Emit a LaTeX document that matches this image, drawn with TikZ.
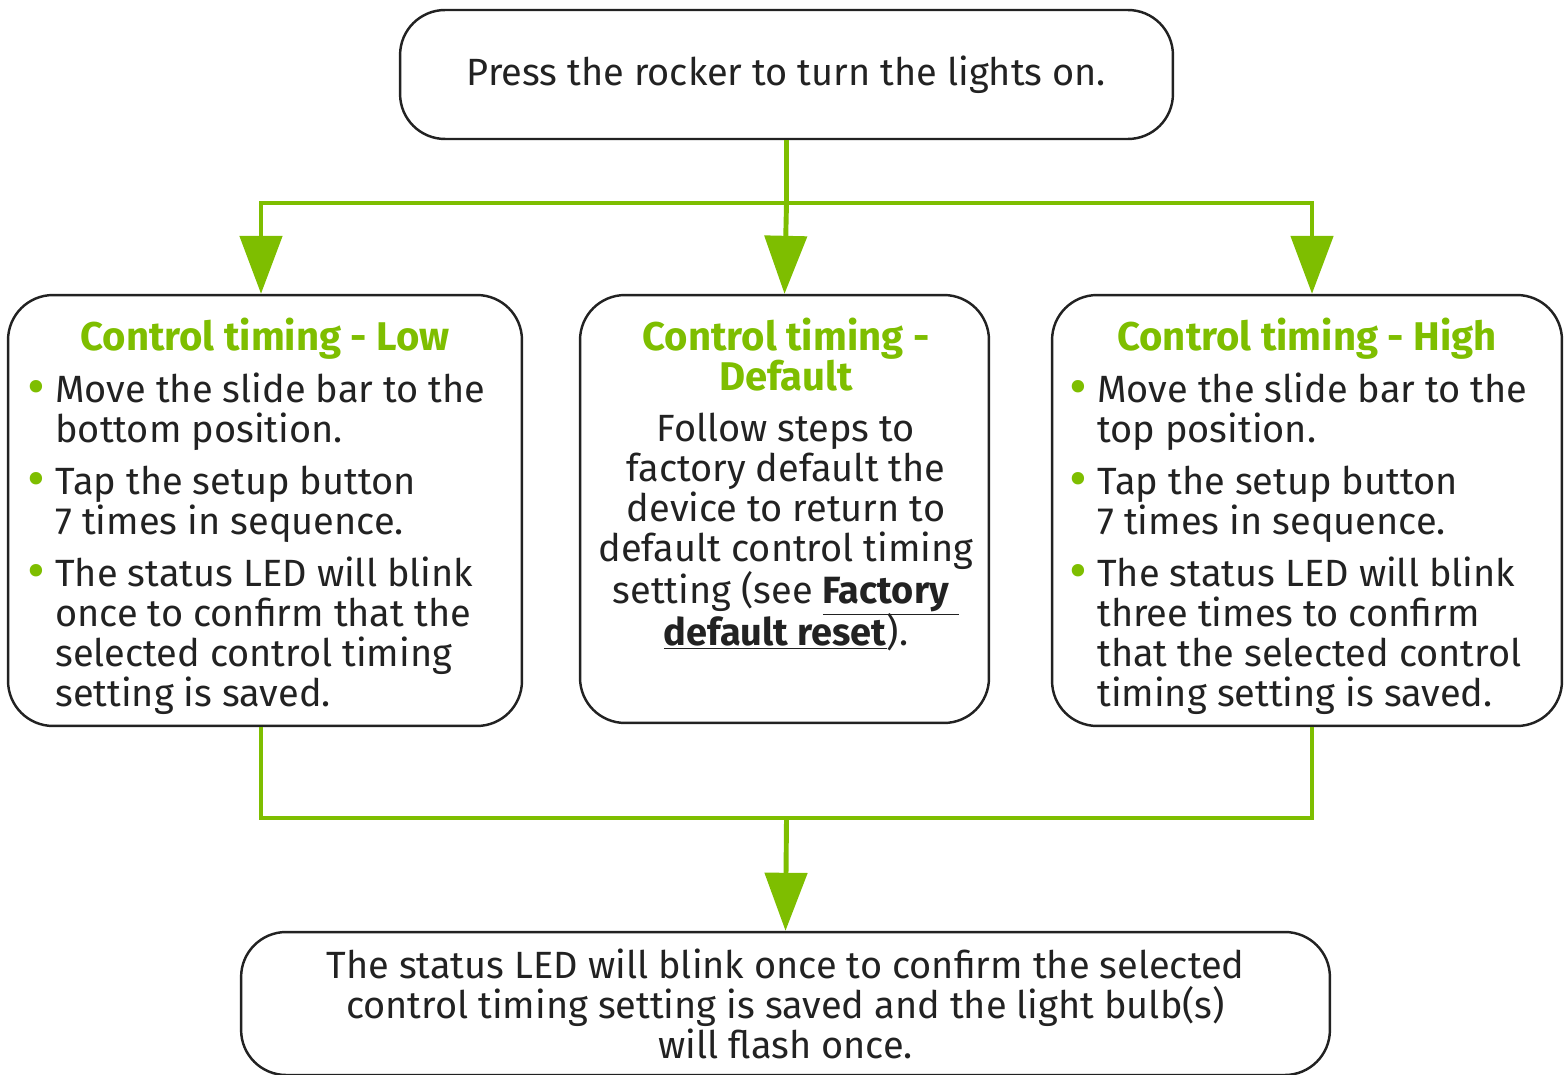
\documentclass[tikz,border=0pt]{standalone}
\usepackage{fontspec}
\setmainfont{Fira Sans}
\usepackage{xcolor}
\usetikzlibrary{positioning, arrows.meta, calc}

\definecolor{ledgreen}{RGB}{126,190,0}
\definecolor{inkgray}{RGB}{34,34,34}
\newcommand{\gbullet}{\llap{\raisebox{-0.08em}{\scalebox{1.45}{\textcolor{ledgreen}{\textbullet}}}\hspace{0.2cm}}}

\begin{document}
\begin{tikzpicture}[
        x=0.02cm, y=-0.02cm,
        % rounded outline of every step
        stepbox/.style={
            draw=inkgray,
            line width=1.4pt,
            rounded corners=0.9cm,
            inner sep=0pt
        },
        body/.style={
            font=\fontsize{21.6}{22.76}\selectfont,
            text=inkgray,
            inner sep=0pt
        },
        head/.style={
            font=\fontsize{22.8}{22.76}\selectfont\bfseries,
            text=ledgreen,
            align=center,
            inner sep=0pt
        },
        flow/.style={
            draw=ledgreen,
            line width=2.8pt
        },
        tip/.style={-{Triangle[length=1.16cm, width=0.84cm]}}
    ]

    \useasboundingbox (0,0) rectangle (1567,1074);

    % ==========================================
    % START
    % ==========================================
    \node[stepbox, body, align=center, minimum width=15.46cm, minimum height=2.58cm] (press) at (786.5,74.5)
        {\raisebox{-0.1cm}{Press the rocker to turn the lights on.}};

    % ==========================================
    % THREE TIMING OPTIONS
    % ==========================================

    % Low
    \node[stepbox, minimum width=10.28cm, minimum height=8.62cm] (low) at (265,510.5) {};
    \node[head, anchor=north] (lowhead) at (265,318) {Control timing - Low};
    \node[body, align=left, anchor=north west] (lowtext) at (55,373)
        {\gbullet Move the slide bar to the\\
         bottom position.\\[0.24cm]
         \gbullet Tap the setup button\\
         7 times in sequence.\\[0.24cm]
         \gbullet The status LED will blink\\
         once to confirm that the\\
         selected control timing\\
         setting is saved.};

    % Default
    \node[stepbox, minimum width=8.18cm, minimum height=8.56cm] (default) at (784.5,509) {};
    \node[head, anchor=north] (defaulthead) at (786,318) {Control timing -\\Default};
    \node[body, align=center, anchor=north] (defaulttext) at (786,413)
        {Follow steps to\\
         factory default the\\
         device to return to\\
         default control timing\\
         setting (see \smash{\underline{\textbf{Factory}\ }}\\
         \smash{\underline{\textbf{default reset}}}).};

    % High
    \node[stepbox, minimum width=10.2cm, minimum height=8.62cm] (high) at (1307,510.5) {};
    \node[head, anchor=north] (highhead) at (1307,318) {Control timing - High};
    \node[body, align=left, anchor=north west] (hightext) at (1097,373)
        {\gbullet Move the slide bar to the\\
         top position.\\[0.24cm]
         \gbullet Tap the setup button\\
         7 times in sequence.\\[0.24cm]
         \gbullet The status LED will blink\\
         three times to confirm\\
         that the selected control\\
         timing setting is saved.};

    % ==========================================
    % RESULT
    % ==========================================
    \node[stepbox, body, align=center, minimum width=21.78cm, minimum height=2.86cm] (saved) at (785.5,1003.5)
        {The status LED will blink once to confirm the selected\\
         control timing setting is saved and the light bulb(s)\\
         will flash once.};

    % connectors
    \coordinate (split) at (786.5,203);
    \coordinate (join) at (786.5,818);
    \draw[flow] (press.south) -- (split);
    \draw[flow, tip] (split) -| ([xshift=-0.08cm]low.north);
    \draw[flow, tip] (split) -| ([xshift=0.1cm]high.north);
    \draw[flow, tip] (split) -- (default.north);
    \draw[flow] ([xshift=-0.08cm]low.south) |- (join) -| ([xshift=0.1cm]high.south);
    \draw[flow, tip] (join) -- (saved.north);

\end{tikzpicture}
\end{document}
